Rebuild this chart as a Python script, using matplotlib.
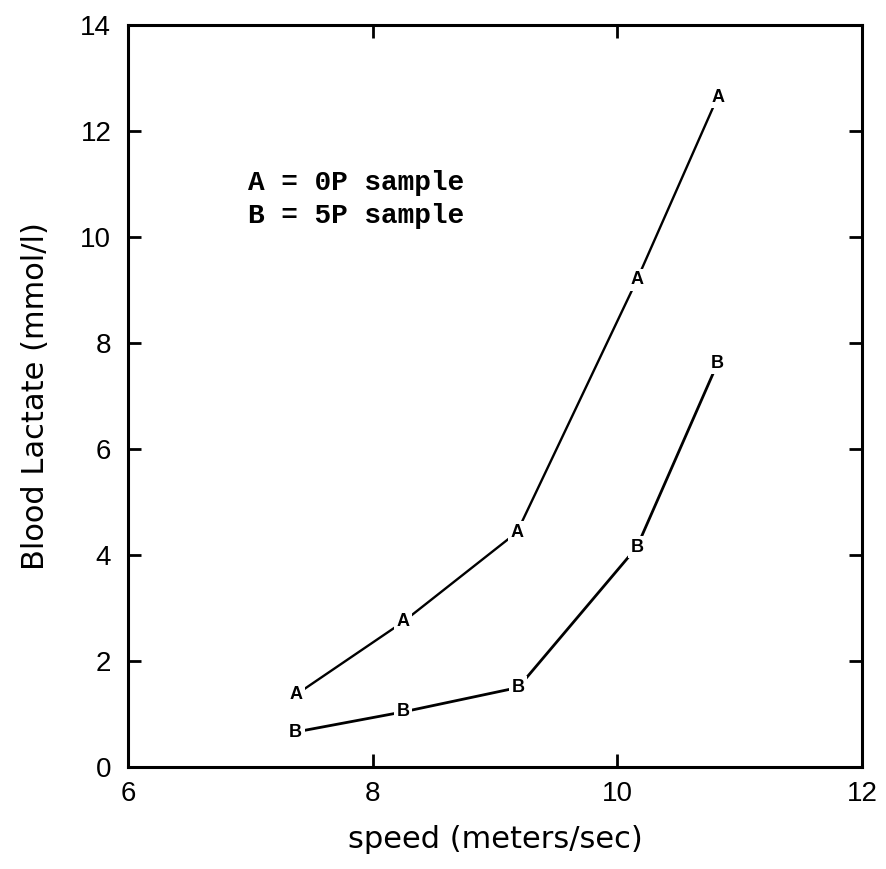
import matplotlib
matplotlib.use("Agg")
import matplotlib.pyplot as plt

speed_A = [7.37, 8.25, 9.18, 10.16, 10.82]
lactate_A = [1.36, 2.74, 4.43, 9.19, 12.64]
speed_B = [7.37, 8.25, 9.19, 10.16, 10.82]
lactate_B = [0.66, 1.04, 1.50, 4.15, 7.62]
xticks = [6, 8, 10, 12]
yticks = [0, 2, 4, 6, 8, 10, 12, 14]

sans = ["Liberation Sans", "DejaVu Sans"]
label_font = ["DejaVu Sans"]
mono = ["Liberation Mono", "DejaVu Sans Mono"]

fig = plt.figure(figsize=(8.87, 8.69), dpi=100)
ax = fig.add_axes([128/887, 1 - 767/869, (862-128)/887, (767-25)/869])

ax.plot(speed_A, lactate_A, color="black", lw=1.7, zorder=2)
ax.plot(speed_B, lactate_B, color="black", lw=2.0, zorder=2)
for x, y in zip(speed_A, lactate_A):
    ax.text(x, y, "A", ha="center", va="center", fontsize=13, fontweight="bold",
            family=sans, zorder=3,
            bbox=dict(boxstyle="square,pad=0.15", fc="white", ec="none"))
for x, y in zip(speed_B, lactate_B):
    ax.text(x, y, "B", ha="center", va="center", fontsize=13, fontweight="bold",
            family=sans, zorder=3,
            bbox=dict(boxstyle="square,pad=0.15", fc="white", ec="none"))

ax.set_xlim(6, 12)
ax.set_ylim(0, 14)
ax.set_xticks(xticks)
ax.set_yticks(yticks)
ax.set_xticklabels([str(v) for v in xticks], family=sans, fontsize=20)
ax.set_yticklabels([str(v) for v in yticks], family=sans, fontsize=20)
ax.tick_params(direction="in", length=9.5, width=2, top=True, right=True,
               labeltop=False, labelright=False)
ax.tick_params(axis="x", pad=10)
ax.tick_params(axis="y", pad=12)
for s in ax.spines.values():
    s.set_linewidth(2.2)

ax.set_xlabel("speed (meters/sec)", family=label_font, fontsize=22, labelpad=13)
ax.set_ylabel("Blood Lactate (mmol/l)", family=label_font, fontsize=22, labelpad=22)

ax.text(0.164, 0.778, "A = 0P sample", transform=ax.transAxes, family=mono,
        fontsize=20, fontweight="bold", ha="left", va="baseline")
ax.text(0.164, 0.733, "B = 5P sample", transform=ax.transAxes, family=mono,
        fontsize=20, fontweight="bold", ha="left", va="baseline")

fig.savefig("out.png", dpi=100, facecolor="white")
